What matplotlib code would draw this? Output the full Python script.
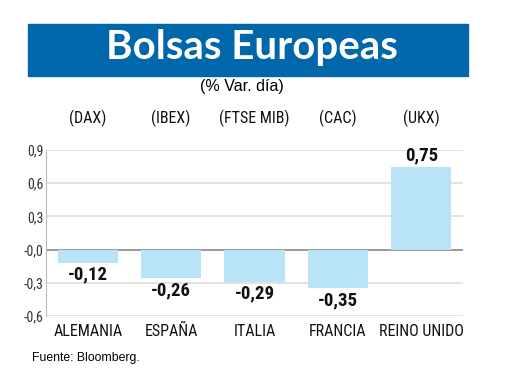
import numpy as np
import matplotlib.pyplot as plt
from matplotlib.patches import Rectangle

countries = ['ALEMANIA', 'ESPAÑA', 'ITALIA', 'FRANCIA', 'REINO UNIDO']
indices = ['(DAX)', '(IBEX)', '(FTSE MIB)', '(CAC)', '(UKX)']
changes = [-0.12, -0.26, -0.29, -0.35, 0.75]
yticks = [-0.6, -0.3, 0.0, 0.3, 0.6, 0.9]
ytick_labels = ['-0,6', '-0,3', '-0,0', '0,3', '0,6', '0,9']

narrow = ['Roboto Condensed', 'DejaVu Sans']
plain = ['Liberation Sans', 'DejaVu Sans']

fig = plt.figure(figsize=(5.2, 3.9), dpi=100)
W, H = 520, 390

# blue title band
fig.patches.append(Rectangle((28 / W, 1 - 76 / H), 440 / W, 52 / H,
                             transform=fig.transFigure, color='#0067ab', zorder=0))
fig.text(252 / W, 1 - 48 / H, 'Bolsas Europeas', color='white', fontsize=29,
         fontweight='bold', family=['Lato', 'DejaVu Sans'], ha='center', va='center')
fig.text(242 / W, 1 - 87 / H, '(% Var. día)', fontsize=11.5, family=plain,
         ha='center', va='center')

ax = fig.add_axes([46 / W, 1 - 316 / H, 417 / W, 166 / H])
x = np.arange(len(countries))
ax.bar(x, changes, width=0.72, color='#b9e3f7', zorder=2)
ax.set_xlim(-0.5, 4.5)
ax.set_ylim(-0.6, 0.9)
ax.set_yticks(yticks)
ax.set_yticklabels(ytick_labels, family=narrow, fontsize=10, color='#333333')
ax.tick_params(axis='y', length=0, pad=2)
ax.set_xticks(x)
ax.set_xticklabels(countries, family=narrow, fontsize=11.5, color='#111111')
ax.tick_params(axis='x', length=0, pad=6)
for yv in yticks:
    ax.axhline(yv, color='#888888' if yv == 0 else '#dddddd', lw=1.2, zorder=1)
for s in ['top', 'right', 'bottom']:
    ax.spines[s].set_visible(False)
ax.spines['left'].set_color('#bbbbbb')

for xi, v in zip(x, changes):
    lab = f'{v:.2f}'.replace('.', ',')
    if v < 0:
        ax.text(xi, v - 0.025, lab, ha='center', va='top',
                fontsize=13.5, fontweight='bold', family=narrow, color='#111111')
    else:
        ax.text(xi, v + 0.02, lab, ha='center', va='bottom',
                fontsize=13.5, fontweight='bold', family=narrow, color='#111111')

# index names above the plot
for xi, lab in zip(x, indices):
    ax.text(xi, 1 + 32 / 166, lab, ha='center', va='center', fontsize=11.5,
            family=narrow, transform=ax.get_xaxis_transform(), clip_on=False,
            color='#111111')

fig.text(32 / W, 1 - 358 / H, 'Fuente: Bloomberg.', fontsize=8.8, family=plain,
         ha='left', va='center')

fig.savefig('out.png', dpi=100)
